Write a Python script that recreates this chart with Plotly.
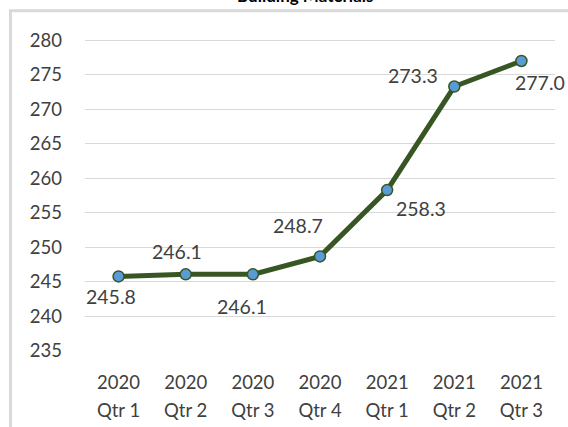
import plotly.graph_objects as go

# ---- data ----
categories = ["2020 Qtr 1", "2020 Qtr 2", "2020 Qtr 3", "2020 Qtr 4",
              "2021 Qtr 1", "2021 Qtr 2", "2021 Qtr 3"]
year_labels = ["2020", "2020", "2020", "2020", "2021", "2021", "2021"]
qtr_labels = ["Qtr 1", "Qtr 2", "Qtr 3", "Qtr 4", "Qtr 1", "Qtr 2", "Qtr 3"]
values = [245.8, 246.1, 246.1, 248.7, 258.3, 273.3, 277.0]
title_text = "Building Materials"

# label offsets (pixels) for each data label
label_dx = [-8, -9, -11, -22, 34, -41, 19]
label_dy = [-20, 23, -32, 31, -18, 11, -22]

W, H = 568, 427
PLOT_TOP, PLOT_BOTTOM = 22.7, 350.7
MT, MB = PLOT_TOP, H - PLOT_BOTTOM
TXT = "#404040"
FONT = "Lato"
ph = H - MT - MB


def px_x(p):
    return p / W


def px_y(p):
    return (PLOT_BOTTOM - p) / ph


fig = go.Figure()

fig.add_trace(go.Scatter(
    x=categories, y=values, mode="lines+markers",
    line=dict(color="#375623", width=5),
    marker=dict(size=11, color="#5B9BD5", line=dict(color="#375623", width=1.5)),
    showlegend=False, hoverinfo="x+y"))

# invisible helper trace so the second (quarter-label) axis is drawn
fig.add_trace(go.Scatter(
    x=list(range(len(qtr_labels))), y=values, mode="markers",
    marker=dict(opacity=0), hoverinfo="skip", showlegend=False,
    xaxis="x2", yaxis="y"))

yr = [235, 282.5]

for c, v, dx, dy in zip(categories, values, label_dx, label_dy):
    fig.add_annotation(x=c, y=v, xref="x", yref="y", text=f"{v:.1f}",
                       showarrow=False, xshift=dx, yshift=dy,
                       font=dict(family=FONT, size=19.5, color=TXT))

fig.add_annotation(x=px_x(305), y=px_y(8), xref="paper", yref="paper",
                   text=f"<b>{title_text}</b>", showarrow=False,
                   font=dict(family=FONT, size=17, color="#000000"),
                   xanchor="center", yanchor="bottom")

# outer frame (partially visible)
fig.add_shape(type="rect", xref="paper", yref="paper",
              x0=px_x(10.5), x1=1.1, y0=-0.5, y1=px_y(10.5),
              line=dict(color="#D9D9D9", width=3), fillcolor="rgba(0,0,0,0)",
              layer="below")

fig.update_layout(
    width=W, height=H,
    margin=dict(l=0, r=0, t=MT, b=MB),
    paper_bgcolor="white", plot_bgcolor="rgba(0,0,0,0)",
    font=dict(family=FONT, size=18.5, color=TXT),
    xaxis=dict(domain=[px_x(85), px_x(555)], type="category",
               categoryorder="array", categoryarray=categories,
               tickmode="array", tickvals=categories, ticktext=year_labels,
               range=[-0.5, 6.5], showgrid=False, zeroline=False, showline=False,
               ticks="", ticklabelstandoff=18, automargin=False,
               tickfont=dict(family=FONT, size=18.5, color=TXT), anchor="y"),
    xaxis2=dict(overlaying="x", side="bottom", anchor="y", type="linear",
                range=[-0.5, 6.5], tickmode="array",
                tickvals=list(range(len(qtr_labels))), ticktext=qtr_labels,
                showgrid=False, zeroline=False, showline=False, ticks="",
                ticklabelstandoff=46, automargin=False,
                tickfont=dict(family=FONT, size=18.5, color=TXT)),
    yaxis=dict(range=yr, dtick=5, tick0=235, showgrid=True, gridcolor="#D9D9D9",
               gridwidth=1.3, zeroline=False, showline=False, ticks="",
               ticklabelstandoff=22, automargin=False,
               tickfont=dict(family=FONT, size=18.5, color=TXT), anchor="x"),
)

fig.write_html("out.html", config={"displayModeBar": False},
               post_script="document.body.style.margin='0';document.body.style.overflow='hidden';")
